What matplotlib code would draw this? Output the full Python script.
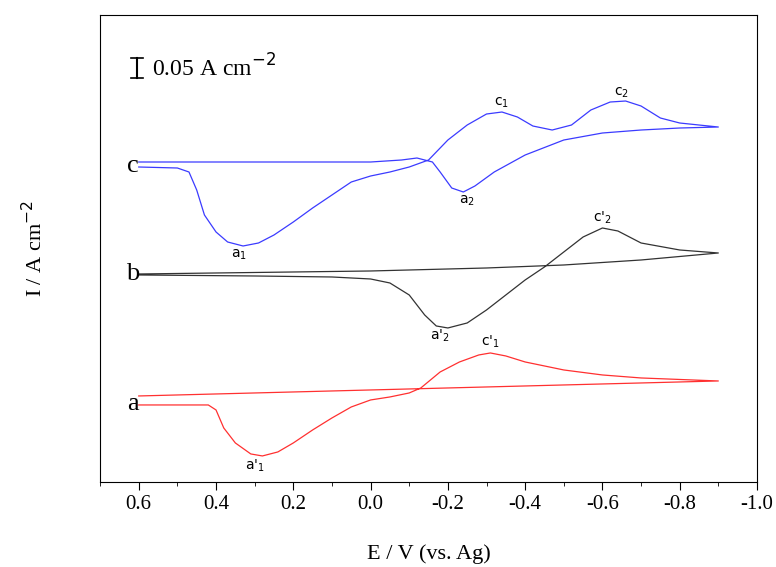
import matplotlib
matplotlib.use("Agg")
import matplotlib.pyplot as plt
import numpy as np

plt.rcParams['font.family'] = ['Liberation Serif', 'DejaVu Serif']

# Potentials (V) and currents (A cm^-2, arbitrary offset)
E_c = [0.60,0.50,0.47,0.45,0.43,0.40,0.37,0.33,0.29,0.25,0.20,0.15,0.10,0.05,0.00,-0.05,-0.10,-0.15,-0.20,-0.25,-0.30,-0.34,-0.38,-0.42,-0.47,-0.52,-0.57,-0.62,-0.66,-0.70,-0.75,-0.80,-0.85,-0.90,
       -0.80,-0.70,-0.60,-0.50,-0.40,-0.32,-0.27,-0.24,-0.21,-0.18,-0.16,-0.12,-0.08,0.00,0.60]
I_c = [0.7875,0.785,0.775,0.73,0.6675,0.625,0.60,0.59,0.5975,0.6175,0.65,0.685,0.7175,0.75,0.765,0.775,0.7875,0.805,0.855,0.8925,0.92,0.925,0.9125,0.89,0.88,0.8925,0.93,0.95,0.9525,0.94,0.91,0.8975,0.8925,0.8875,
       0.885,0.88,0.8725,0.855,0.8175,0.775,0.74,0.725,0.735,0.775,0.80,0.81,0.805,0.80,0.80]
E_b = [0.60,0.30,0.10,0.00,-0.05,-0.10,-0.14,-0.17,-0.20,-0.25,-0.30,-0.35,-0.40,-0.45,-0.50,-0.55,-0.60,-0.64,-0.70,-0.80,-0.90,
       -0.70,-0.50,-0.30,0.00,0.60]
I_b = [0.5175,0.515,0.5125,0.5075,0.4975,0.4675,0.4175,0.39,0.385,0.3975,0.43,0.4675,0.505,0.5375,0.575,0.6125,0.635,0.6275,0.5975,0.58,0.5725,
       0.555,0.5425,0.535,0.5275,0.52]
E_a = [0.60,0.42,0.40,0.38,0.35,0.31,0.28,0.24,0.20,0.15,0.10,0.05,0.00,-0.05,-0.10,-0.13,-0.18,-0.23,-0.28,-0.31,-0.35,-0.40,-0.50,-0.60,-0.70,-0.90,
       0.60]
I_a = [0.1925,0.1925,0.18,0.135,0.0975,0.07,0.065,0.075,0.0975,0.13,0.16,0.1875,0.205,0.2125,0.2225,0.235,0.275,0.30,0.3175,0.3225,0.315,0.30,0.28,0.2675,0.26,0.2525,
       0.215]

fig = plt.figure(figsize=(7.76, 5.67), dpi=100)
ax = fig.add_axes([0.129, 0.150, 0.8465, 0.8235])
ax.plot(E_c, I_c, color='#3b3bff', lw=0.9)
ax.plot(E_b, I_b, color='#333333', lw=0.9)
ax.plot(E_a, I_a, color='#ff3030', lw=0.9)
ax.set_xlim(0.7, -1.0)
ax.set_ylim(0, 1.1675)
ax.set_yticks([])
ax.set_xticks(np.arange(0.6, -1.01, -0.2))
ax.set_xticklabels(['0.6','0.4','0.2','0.0','-0.2','-0.4','-0.6','-0.8','-1.0'])
ax.set_xticks(np.arange(0.7, -1.01, -0.1), minor=True)
ax.tick_params(axis='x', direction='out', labelsize=15, length=6)
ax.tick_params(axis='x', which='minor', direction='out', length=3)
ax.set_xlabel('E / V (vs. Ag)', fontsize=16, labelpad=22)
ax.set_ylabel('I / A cm$^{-2}$', fontsize=16, labelpad=38)

# scale bar
ax.plot([0.604, 0.604], [1.06, 1.01], color='k', lw=1.5)
ax.plot([0.62, 0.588], [1.06, 1.06], color='k', lw=1.2)
ax.plot([0.62, 0.588], [1.01, 1.01], color='k', lw=1.2)
ax.text(0.565, 1.035, '0.05 A cm$^{-2}$', fontsize=17, va='center')

for lab, y in [('c', 0.79), ('b', 0.52), ('a', 0.195)]:
    ax.text(0.615, y, lab, fontsize=19, ha='center', va='center')

sans = dict(family=['DejaVu Sans'], fontsize=10, ha='center')
ax.text(-0.34, 0.94, 'c$_1$', **sans)
ax.text(-0.65, 0.965, 'c$_2$', **sans)
ax.text(0.34, 0.56, 'a$_1$', **sans)
ax.text(-0.25, 0.695, 'a$_2$', **sans)
ax.text(-0.60, 0.65, "c'$_2$", **sans)
ax.text(-0.18, 0.355, "a'$_2$", **sans)
ax.text(-0.31, 0.34, "c'$_1$", **sans)
ax.text(0.30, 0.03, "a'$_1$", **sans)

fig.savefig('out.png', dpi=100)
